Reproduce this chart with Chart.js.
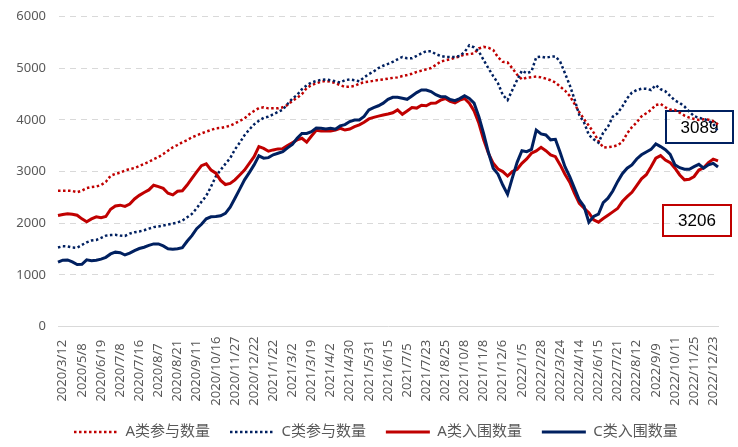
<!DOCTYPE html>
<html>
<head>
<meta charset="utf-8">
<script src="https://cdn.jsdelivr.net/npm/chart.js@4.4.1/dist/chart.umd.min.js"></script>
<style>
  html, body { margin: 0; padding: 0; background: #fff; }
  #wrap { width: 738px; height: 447px; position: relative; }
</style>
</head>
<body>
<div id="wrap"><canvas id="chart"></canvas></div>
<script>
// one tick label every 4 points
const tickLabels = ['2020/3/12','2020/5/8','2020/6/19','2020/7/8','2020/7/16','2020/8/7','2020/8/21','2020/9/11',
  '2020/10/16','2020/11/27','2020/12/22','2021/1/22','2021/3/2','2021/3/19','2021/4/2','2021/4/30','2021/5/31',
  '2021/6/15','2021/7/5','2021/7/23','2021/8/25','2021/10/8','2021/11/8','2021/12/6','2022/1/5','2022/2/28',
  '2022/3/24','2022/4/14','2022/6/15','2022/7/21','2022/8/12','2022/9/9','2022/10/11','2022/11/25','2022/12/23'];

const seriesNames = ['A类参与数量', 'C类参与数量', 'A类入围数量', 'C类入围数量'];

const aJoin = [2630,2630,2630,2625,2600,2630,2680,2700,2710,2740,2800,2920,2955,2980,3020,3050,3070,3110,3150,3190,
  3240,3280,3340,3405,3470,3515,3570,3610,3665,3700,3740,3775,3805,3840,3845,3865,3890,
  3935,3980,4030,4110,4175,4230,4245,4225,4225,4225,4245,4290,4370,4430,4500,4620,4675,4710,4740,4755,
  4740,4715,4675,4640,4645,4660,4705,4730,4740,4760,4775,4785,4800,4815,4825,4850,4870,
  4895,4930,4955,4980,5005,5065,5130,5155,5175,5205,5230,5270,5275,5290,5385,5415,5400,5355,5215,5125,
  5115,5000,4875,4785,4820,4830,4840,4825,4800,4770,4725,4645,4570,4465,4310,4150,4015,
  3890,3755,3595,3465,3475,3485,3510,3575,3740,3860,3955,4070,4130,4195,4290,4310,4245,4200,4195,4140,
  4085,4045,4020,4000,4015,4005,3975,3915];

const cJoin = [1530,1555,1550,1530,1525,1580,1630,1665,1675,1715,1760,1770,1775,1760,1755,1800,1825,1840,1865,1895,
  1925,1935,1955,1975,1995,2015,2050,2115,2180,2290,2415,2530,2710,2905,3030,3150,3260,
  3430,3560,3705,3815,3915,3985,4040,4065,4110,4155,4200,4310,4415,4485,4595,4670,4725,4755,4775,4785,
  4770,4750,4725,4770,4785,4770,4750,4825,4890,4940,5005,5050,5085,5125,5175,5220,5195,
  5195,5240,5290,5330,5330,5275,5240,5220,5220,5220,5240,5315,5445,5405,5325,5160,5000,4850,4710,4485,
  4385,4580,4775,4955,4905,4940,5215,5225,5205,5225,5230,5130,4905,4675,4400,4095,3950,
  3710,3625,3560,3755,3870,4065,4130,4260,4420,4530,4580,4605,4605,4580,4675,4595,4555,4465,4375,4330,
  4260,4160,4075,4040,4020,3985,3925,3775];

const aIn = [2150,2170,2185,2175,2155,2085,2030,2085,2125,2105,2130,2270,2335,2350,2325,2370,2470,2540,2595,2645,
  2735,2710,2675,2580,2550,2620,2630,2740,2870,2995,3115,3150,3030,2970,2830,2750,2770,
  2840,2935,3030,3160,3290,3485,3450,3395,3420,3440,3445,3505,3560,3615,3645,3570,3690,3800,3785,3785,
  3785,3805,3840,3805,3825,3870,3905,3955,4020,4050,4075,4095,4115,4140,4195,4110,4175,
  4240,4230,4285,4275,4325,4330,4385,4415,4360,4330,4385,4415,4325,4175,3935,3615,3355,3160,3050,3000,
  2915,3000,3045,3160,3245,3355,3400,3470,3405,3325,3290,3130,2950,2795,2580,2385,2290,
  2205,2065,2020,2090,2155,2220,2285,2420,2515,2600,2730,2860,2940,3095,3260,3310,3225,3175,3065,2935,
  2840,2850,2905,3030,3075,3175,3240,3206];

const cIn = [1245,1285,1290,1250,1200,1205,1290,1275,1285,1305,1340,1405,1440,1430,1385,1420,1470,1510,1535,1570,
  1600,1600,1560,1505,1495,1505,1525,1650,1760,1895,1980,2085,2125,2130,2145,2190,2310,
  2485,2660,2840,2980,3130,3305,3260,3270,3325,3355,3385,3460,3525,3645,3740,3740,3775,3845,3840,3825,
  3840,3820,3885,3910,3970,4000,4000,4070,4195,4240,4275,4325,4400,4440,4440,4420,4400,
  4465,4530,4580,4580,4550,4490,4450,4450,4395,4375,4415,4470,4415,4325,4065,3735,3370,3065,2950,2740,
  2560,2880,3180,3405,3385,3430,3805,3730,3710,3615,3625,3370,3095,2905,2675,2450,2325,
  2020,2130,2175,2400,2485,2625,2805,2960,3065,3130,3245,3325,3380,3430,3535,3485,3425,3335,3130,3075,
  3045,3045,3095,3140,3065,3130,3160,3089];

const STEP = 4;
const categories = aJoin.map((_, i) => (i - 1) % STEP === 0 ? tickLabels[(i - 1) / STEP] : '');
const longest = Math.max(...tickLabels.map(s => s.length));

const RED = '#C00000';
const NAVY = '#002060';
const GREY = '#595959';
const FONT = "'Noto Sans', 'Noto Sans CJK SC', sans-serif";

// value boxes at the right (last values of the two 入围 series)
const endBoxes = {
  id: 'endBoxes',
  beforeDatasetsDraw(chart) {
    const ctx = chart.ctx;
    const area = chart.chartArea;
    const boxes = [
      { text: String(cIn[cIn.length - 1]), color: NAVY, x: area.right - 52, y: 111, w: 67, h: 32 },
      { text: String(aIn[aIn.length - 1]), color: RED, x: area.right - 55, y: 205, w: 68, h: 31 }
    ];
    ctx.save();
    boxes.forEach(b => {
      ctx.lineWidth = 2;
      ctx.strokeStyle = b.color;
      ctx.strokeRect(b.x, b.y, b.w, b.h);
      ctx.fillStyle = '#000';
      ctx.font = "17px 'Liberation Sans', Arial, sans-serif";
      ctx.textAlign = 'center';
      ctx.textBaseline = 'middle';
      ctx.fillText(b.text, b.x + b.w / 2, b.y + b.h / 2 + 1);
    });
    ctx.restore();
  }
};

function lineSet(label, data, color, dotted, order) {
  return {
    label: label,
    data: data,
    borderColor: color,
    backgroundColor: color,
    borderWidth: dotted ? 2.5 : 3,
    borderDash: dotted ? [2.5, 2.5] : [],
    pointRadius: 0,
    pointHoverRadius: 0,
    pointStyle: 'line',
    tension: 0,
    fill: false,
    order: order
  };
}

new Chart(document.getElementById('chart'), {
  type: 'line',
  data: {
    labels: categories,
    datasets: [
      lineSet(seriesNames[0], aJoin, RED, true, 4),
      lineSet(seriesNames[1], cJoin, NAVY, true, 3),
      lineSet(seriesNames[2], aIn, RED, false, 2),
      lineSet(seriesNames[3], cIn, NAVY, false, 1)
    ]
  },
  options: {
    responsive: true,
    maintainAspectRatio: false,
    animation: false,
    layout: { padding: { top: 16.7, right: 20, left: 14, bottom: -2.5 } },
    plugins: {
      tooltip: { enabled: false },
      legend: {
        position: 'bottom',
        fullSize: false,
        align: 'start',
        labels: {
          usePointStyle: true,
          pointStyleWidth: 44,
          padding: 16,
          color: GREY,
          font: { family: FONT, size: 15 },
          sort: (a, b) => a.datasetIndex - b.datasetIndex,
          generateLabels(chart) {
            const items = Chart.defaults.plugins.legend.labels.generateLabels(chart);
            items.forEach(it => {
              const ds = chart.data.datasets[it.datasetIndex];
              it.lineDash = ds.borderDash;
              it.lineWidth = ds.borderWidth;
              it.strokeStyle = ds.borderColor;
              if (it.datasetIndex < seriesNames.length - 1) it.text += ' ';
            });
            return items;
          }
        }
      }
    },
    scales: {
      x: {
        grid: { display: false, drawTicks: false },
        border: { display: true, color: '#D9D9D9', width: 1 },
        ticks: {
          autoSkip: false,
          maxRotation: 90,
          minRotation: 90,
          padding: 10,
          color: GREY,
          font: { family: FONT, size: 13 },
          // centre the shorter rotated labels like the original
          callback(value) {
            const s = this.getLabelForValue(value);
            if (!s) return '';
            return s + ' '.repeat(Math.round((longest - s.length) * 1.1));
          }
        },
        afterFit(scale) {
          scale.height = 82;
          scale.paddingLeft = 0;
          scale.paddingRight = 0;
        }
      },
      y: {
        min: 0,
        max: 6000,
        grid: { color: '#D9D9D9', lineWidth: 1, drawTicks: false },
        border: { display: true, color: 'rgba(0,0,0,0)', dash: [6, 5] },
        ticks: {
          stepSize: 1000,
          padding: 12,
          color: GREY,
          font: { family: FONT, size: 13 },
          callback: v => String(v)
        },
        afterFit(scale) {
          scale.width = 44;
          scale.paddingTop = 0;
          scale.paddingBottom = 0;
        }
      }
    }
  },
  plugins: [endBoxes]
});
</script>
</body>
</html>
